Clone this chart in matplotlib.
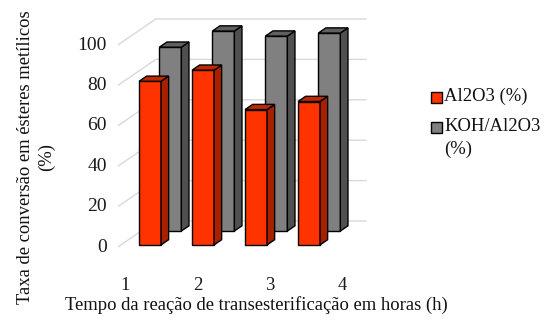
import matplotlib
matplotlib.use("Agg")
import matplotlib.pyplot as plt
from matplotlib.patches import Polygon, Rectangle

# --- data -------------------------------------------------------------
hours = [1, 2, 3, 4]
hour_labels = ["1", "2", "3", "4"]
al2o3 = [81, 86.5, 67, 71]
koh_al2o3 = [91, 99, 96.5, 98]
y_ticks = [0, 20, 40, 60, 80, 100]
series_names = ["Al2O3 (%)", "KOH/Al2O3\n(%)"]
x_title = "Tempo da reação de transesterificação em horas (h)"
y_title = "Taxa de conversão em ésteres metílicos\n(%)"

# --- figure / oblique projection setup -----------------------------------
W, H, DPI = 547, 322, 100
plt.rcParams["font.family"] = ["Liberation Serif", "DejaVu Serif"]
FS = 13.4
FS_TICK = 14

fig = plt.figure(figsize=(W / DPI, H / DPI), dpi=DPI)
ax = fig.add_axes([0, 0, 1, 1])
PX_X, PX_Y = 53.0, 2.02        # pixels per category / per percent
X0, Y0 = 94.0, 75.0            # pixel origin of the front plane
ax.set_xlim(-X0 / PX_X, (W - X0) / PX_X)
ax.set_ylim(-Y0 / PX_Y, (H - Y0) / PX_Y)
ax.axis("off")

DX = 38.0 / PX_X               # x shift for one full unit of depth
DY = 26.0 / PX_Y               # y shift for one full unit of depth


def proj(x, v, d):
    return x + d * DX, v + d * DY


# --- walls: left side wall and back wall gridlines -----------------------
XL, XR = 0.45, 4.43
grid_kw = dict(color="#d9d9d9", lw=1.0, zorder=1, solid_capstyle="butt")
for v in y_ticks:
    a = proj(XL, v, 0)
    b = proj(XL, v, 1)
    c = proj(XR, v, 1)
    ax.plot([a[0], b[0], c[0]], [a[1], b[1], c[1]], **grid_kw)
    ax.text(0.24, v, str(v), ha="right", va="center", fontsize=FS_TICK,
            color="#1a1a1a")

# --- 3D bars --------------------------------------------------------------
BAR_W = 0.415
BAR_D = 0.2
series = [
    # values, depth position, front, side, top colours
    (koh_al2o3, 0.615, "#808080", "#505050", "#606060"),
    (al2o3, 0.08, "#ff3300", "#a82000", "#c22800"),
]

z = 2
for values, d, c_front, c_side, c_top in series:
    xs = [proj(h, 0, d)[0] for h in hours]
    base = d * DY
    for x, v in zip(xs, values):
        ax.bar(x, v, width=BAR_W, bottom=base, color=c_front,
               edgecolor="black", linewidth=1.0, zorder=z)
        xl, xr = x - BAR_W / 2, x + BAR_W / 2
        top = base + v
        side = [(xr, base), (xr, top),
                (xr + BAR_D * DX, top + BAR_D * DY),
                (xr + BAR_D * DX, base + BAR_D * DY)]
        lid = [(xl, top), (xr, top),
               (xr + BAR_D * DX, top + BAR_D * DY),
               (xl + BAR_D * DX, top + BAR_D * DY)]
        ax.add_patch(Polygon(side, closed=True, facecolor=c_side,
                             edgecolor="black", lw=1.0, zorder=z))
        ax.add_patch(Polygon(lid, closed=True, facecolor=c_top,
                             edgecolor="black", lw=1.0, zorder=z))
        z += 1

# --- category labels and axis titles --------------------------------------
for h, lab in zip(hours, hour_labels):
    ax.text(-0.78 + 1.365 * h, (H - 285 - Y0) / PX_Y, lab, ha="center",
            va="center", fontsize=FS, color="#1a1a1a")

fig.text(256 / W, 1 - 305 / H, x_title, ha="center", va="center",
         fontsize=FS, color="#111111")
fig.text(36 / W, 1 - 157 / H, y_title, ha="center", va="center",
         rotation=90, fontsize=FS, color="#111111", linespacing=1.3,
         multialignment="center")

# --- legend ---------------------------------------------------------------
legend_items = [(series_names[0], "#ff3300", 97),
                (series_names[1], "#808080", 127)]
for name, col, ypx in legend_items:
    fig.patches.append(Rectangle((431 / W, 1 - (ypx + 5.5) / H), 11 / W, 11 / H,
                                 transform=fig.transFigure, facecolor=col,
                                 edgecolor="black", lw=1.0))
    fig.text(444 / W, 1 - (ypx - 9) / H, name, ha="left", va="top",
             fontsize=FS, color="#111111", linespacing=1.45)

fig.savefig("out.png", dpi=DPI)
